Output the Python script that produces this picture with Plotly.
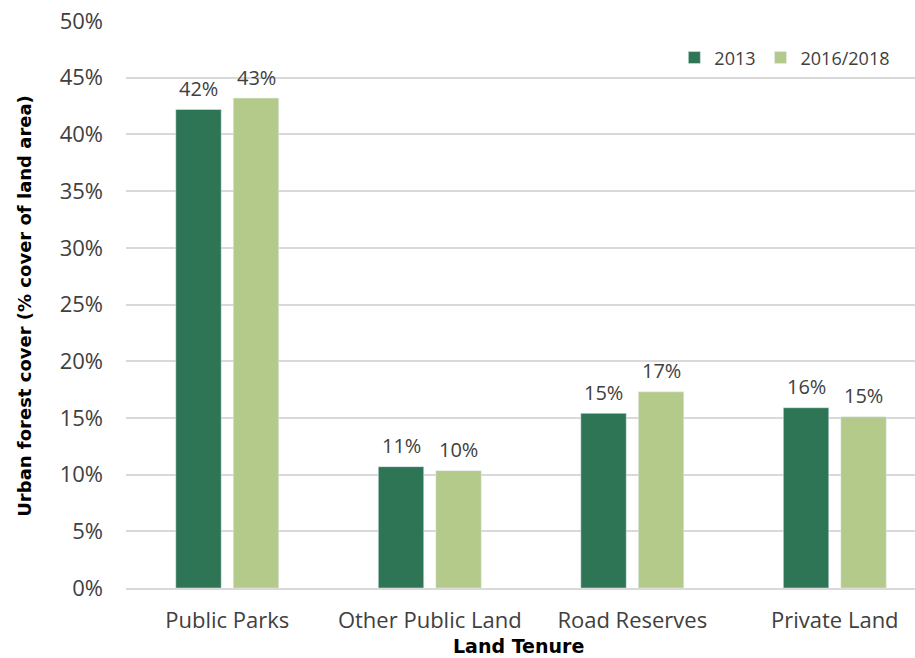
import plotly.graph_objects as go

categories = ["Public Parks", "Other Public Land", "Road Reserves", "Private Land"]
series_names = ["2013", "2016/2018"]
values_2013 = [42.2, 10.7, 15.4, 15.9]
values_2016 = [43.2, 10.35, 17.3, 15.1]
labels_2013 = ["42%", "11%", "15%", "16%"]
labels_2016 = ["43%", "10%", "17%", "15%"]
y_ticks = [0, 5, 10, 15, 20, 25, 30, 35, 40, 45, 50]
y_tick_labels = [f"{v}%" for v in y_ticks]

dark = "#2E7556"
light = "#B3CA8A"
text_col = "#404040"
font_family = "Open Sans"
bold_family = "DejaVu Sans"

fig = go.Figure()
fig.add_trace(go.Bar(name=series_names[0], x=categories, y=values_2013, marker_color=dark))
fig.add_trace(go.Bar(name=series_names[1], x=categories, y=values_2016, marker_color=light))

# data labels above each bar, offset to each bar's slot in the group
slot_px = 57.5
for vals, labs, side in ((values_2013, labels_2013, -1), (values_2016, labels_2016, 1)):
    for cat, v, lab in zip(categories, vals, labs):
        fig.add_annotation(
            x=cat, y=v, xref="x", yref="y", text=lab, showarrow=False,
            xanchor="center", yanchor="middle", xshift=side * slot_px / 2, yshift=21,
            font=dict(size=20, color=text_col, family=font_family),
        )

fig.update_layout(
    width=915, height=658,
    margin=dict(l=126, r=0, t=21, b=70),
    plot_bgcolor="white", paper_bgcolor="white",
    barmode="group", bargap=0.432, bargroupgap=0.21,
    font=dict(family=font_family, color=text_col, size=20),
    showlegend=True,
    legend=dict(orientation="h", x=0.695, y=0.935, xanchor="left", yanchor="middle",
                font=dict(size=18, color=text_col, family=font_family),
                bgcolor="rgba(0,0,0,0)", itemwidth=30),
)
fig.update_xaxes(
    range=[-0.5, 3.396], showgrid=False, showline=True, linecolor="#D9D9D9",
    linewidth=1.5, ticks="", tickfont=dict(size=22, color=text_col, family=font_family),
    ticklabelstandoff=12,
)
fig.update_yaxes(
    range=[0, 50], tickvals=y_ticks, ticktext=y_tick_labels,
    showgrid=True, gridcolor="#D9D9D9", gridwidth=1.5, zeroline=False,
    showline=False, ticks="", tickfont=dict(size=22, color=text_col, family=font_family),
    ticklabelstandoff=22,
)
fig.add_annotation(
    text="<b>Urban forest cover (% cover of land area)</b>", textangle=-90,
    xref="paper", yref="paper", x=(25 - 126) / 789, y=(588.5 - 306) / 567.5,
    xanchor="center", yanchor="middle", showarrow=False,
    font=dict(size=18, color="#000000", family=bold_family),
)
fig.add_annotation(
    text="<b>Land Tenure</b>", xref="paper", yref="paper",
    x=(518 - 126) / 789, y=-(647 - 588.5) / 567.5,
    xanchor="center", yanchor="middle", showarrow=False,
    font=dict(size=19, color="#000000", family=bold_family),
)

fig.write_html("out.html")
